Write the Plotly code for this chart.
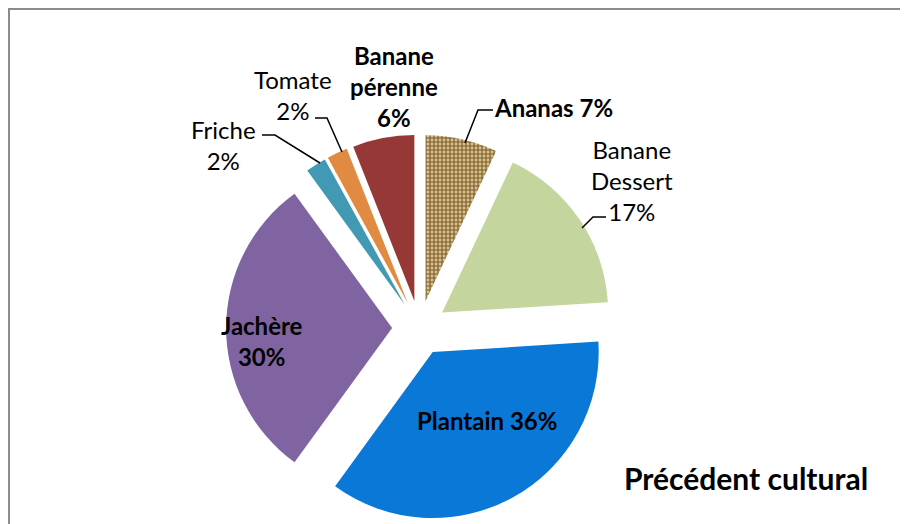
import plotly.graph_objects as go

# ---- data ----
labels = ["Ananas", "Banane Dessert", "Plantain", "Jachère", "Friche", "Tomate", "Banane pérenne"]
values = [7, 17, 36, 30, 2, 2, 6]
colors = ["#c8ab70", "#c4d69d", "#0a78d6", "#8064a2", "#4299b4", "#e08b41", "#953836"]
title_text = "Précédent cultural"

W, H = 908, 524
OFF = 8  # page body margin offset
FONT = "Lato, 'Open Sans', sans-serif"


def px(x, y):
    """screen pixel -> paper fraction"""
    return (x - OFF) / W, 1 - (y - OFF) / H


# pie geometry (screen pixels)
cx, cy, R, pull = 419.5, 328.0, 166.0, 0.165
half = R * (1 + pull)
dx0, dy1 = px(cx - half, cy - half)
dx1, dy0 = px(cx + half, cy + half)

pattern_bg = ["#d8c18c"] + colors[1:]

fig = go.Figure(go.Pie(
    labels=labels,
    values=values,
    sort=False,
    direction="clockwise",
    rotation=0,
    pull=[pull] * len(values),
    marker=dict(
        colors=colors,
        line=dict(width=0),
        pattern=dict(
            shape=["+", "", "", "", "", "", ""],
            fgcolor="#7a5c2c",
            bgcolor=pattern_bg,
            size=4,
            solidity=0.5,
        ),
    ),
    textinfo="none",
    hoverinfo="label+percent",
    domain=dict(x=[dx0, dx1], y=[dy0, dy1]),
    showlegend=False,
))


def pct(i):
    return f"{round(values[i] / sum(values) * 100)}%"


def b(s):
    return f"<b>{s}</b>"


txt = {
    0: b(f"{labels[0]} {pct(0)}"),
    1: "Banane<br>Dessert<br>" + pct(1),
    2: b(f"{labels[2]} {pct(2)}"),
    3: b(f"{labels[3]}<br>{pct(3)}"),
    4: f"{labels[4]}<br>{pct(4)}",
    5: f"{labels[5]}<br>{pct(5)}",
    6: b("Banane<br>pérenne<br>" + pct(6)),
}
pos = {
    0: (553, 107),
    1: (632, 180),
    2: (487, 420),
    3: (262, 341),
    4: (223, 145),
    5: (293, 95),
    6: (394, 87),
}

annotations = []
for i, t in txt.items():
    x, y = px(*pos[i])
    annotations.append(dict(
        x=x, y=y, xref="paper", yref="paper", text=t, showarrow=False,
        xanchor="center", yanchor="middle", align="center",
        font=dict(family=FONT, size=24, color="#000000"),
    ))

tx, ty = px(746, 478)
annotations.append(dict(
    x=tx, y=ty, xref="paper", yref="paper", text=b(title_text), showarrow=False,
    xanchor="center", yanchor="middle",
    font=dict(family=FONT, size=30, color="#000000"),
))

leaders = [
    [(493, 110), (478, 110), (465, 143)],   # Ananas
    [(606, 217), (593, 217), (582, 228)],   # Banane Dessert
    [(262, 135), (275, 135), (320, 163)],   # Friche
    [(315, 118), (327, 118), (342, 152)],   # Tomate
]
shapes = []
for pts in leaders:
    p = []
    for k, (x, y) in enumerate(pts):
        X, Y = px(x, y)
        p.append(("M" if k == 0 else "L") + f"{X:.5f},{Y:.5f}")
    shapes.append(dict(type="path", xref="paper", yref="paper", path=" ".join(p),
                       line=dict(color="#000000", width=1.5)))

for (x0, y0, x1, y1) in [(9, 8, 9, 540), (8, 9, 930, 9)]:
    X0, Y0 = px(x0, y0)
    X1, Y1 = px(x1, y1)
    shapes.append(dict(type="line", xref="paper", yref="paper", x0=X0, y0=Y0, x1=X1, y1=Y1,
                       line=dict(color="#8c8c8c", width=2)))

fig.update_layout(
    width=W, height=H,
    margin=dict(l=0, r=0, t=0, b=0),
    paper_bgcolor="#ffffff",
    plot_bgcolor="#ffffff",
    annotations=annotations,
    shapes=shapes,
    font=dict(family=FONT),
)

fig.write_html("out.html")
